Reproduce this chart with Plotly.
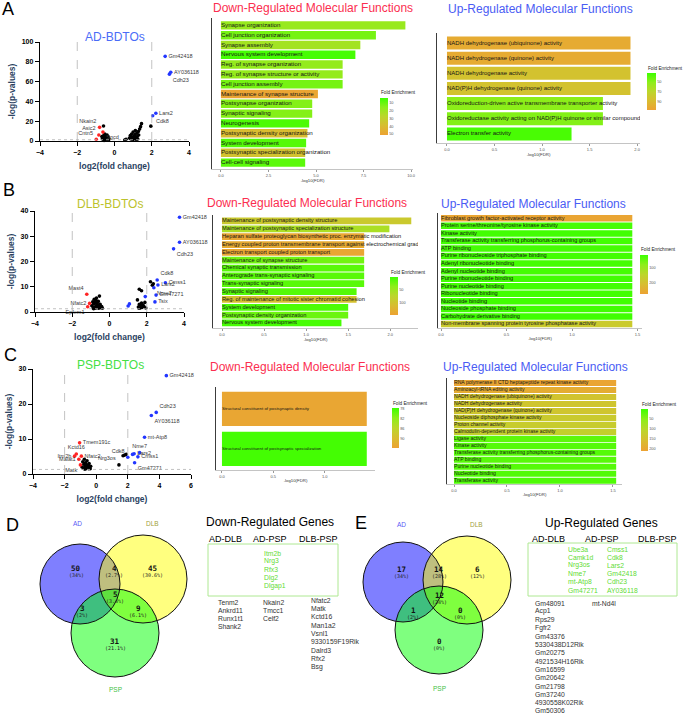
import plotly.graph_objects as go

W, H = 683, 714
def PX(p): return p / W
def PY(p): return 1 - p / H

SANS = "Liberation Sans, Arial, Helvetica, sans-serif"
MONO = "DejaVu Sans Mono, Liberation Mono, monospace"

# ======================= DATA =======================
# ---- Volcano A : AD-BDTOs
A_up_genes = ['Gm42418', 'AY036118', 'Cdh23', 'Lars2', 'Cdk8']
A_up_x = [2.72, 3.02, 2.95, 2.22, 2.05]
A_up_y = [85.5, 69.5, 67.5, 28.0, 25.5]
A_dn_genes = ['Nkain2', 'Sgcd', 'Asic2', 'Cntn5']
A_dn_x = [-0.80, -0.62, -0.84, -0.98]
A_dn_y = [13.8, 9.0, 6.0, 1.7]
A_ns_x = [-0.68, -0.62, -0.58, -0.55, -0.52, -0.50, -0.48, -0.45, -0.42, -0.40, -0.38, -0.36,
          -0.33, -0.30, -0.60, -0.65, -0.47, -0.56, -0.44, -0.35, -0.59,
          0.55, 0.62, 0.80, 0.85, 0.88, 0.92, 0.95, 0.98, 1.00, 1.02, 1.05, 1.08, 1.10, 1.12,
          1.15, 1.18, 1.20, 1.22, 1.25, 1.30, 1.35, 1.40, 1.45, 1.28, 1.95]
A_ns_y = [4.5, 3.0, 5.5, 2.0, 7.0, 3.5, 1.2, 4.0, 2.5, 6.0, 1.5, 3.2,
          0.8, 2.2, 1.0, 2.2, 5.0, 0.6, 0.9, 4.6, 15.2,
          1.0, 1.8, 3.0, 5.5, 2.0, 7.0, 4.0, 1.2, 9.0, 3.0, 5.0, 2.2, 6.5, 10.5,
          3.5, 1.5, 8.0, 4.5, 2.0, 6.0, 12.0, 14.5, 17.5, 9.5, 15.0]

# ---- Volcano B : DLB-BDTOs
B_up_genes = ['Gm42418', 'AY036118', 'Cdh23', 'Cdk8', 'Cmss1', 'Lars2', 'Nme7', 'Gm47271', 'Tsix', '', '', '']
B_up_x = [3.76, 3.76, 3.44, 2.56, 3.00, 2.60, 2.38, 2.50, 2.44, 1.92, 1.07, 1.00]
B_up_y = [37.5, 27.6, 25.0, 12.7, 11.6, 10.7, 9.6, 6.7, 4.0, 6.1, 3.2, 2.4]
B_dn_genes = ['Mast4', 'Nfatc2', 'Epfem1']
B_dn_x = [-1.22, -1.07, -1.17]
B_dn_y = [7.0, 3.4, 2.1]
B_ns_x = [-0.95, -0.90, -0.88, -0.85, -0.82, -0.80, -0.78, -0.75, -0.72, -0.70, -0.68, -0.65,
          -0.62, -0.60, -0.58, -0.55, -0.54, -0.50, -0.47, -0.42, -0.38, -0.85, -0.70,
          1.50, 1.55, 1.60, 1.65, 1.70, 1.72, 1.75, 1.80, 1.85, 1.90, 1.60, 1.72, 2.20, 2.30,
          2.35, 1.58, 1.95]
B_ns_y = [2.5, 4.0, 1.6, 3.2, 5.0, 2.0, 3.8, 1.5, 4.5, 2.6, 3.4, 1.8,
          2.9, 4.2, 1.5, 2.3, 6.3, 3.0, 1.7, 2.2, 1.5, 1.3, 5.5,
          4.8, 2.0, 3.0, 1.6, 2.5, 3.5, 1.8, 2.8, 2.2, 3.8, 9.0, 8.4, 12.0, 10.6,
          11.2, 1.5, 1.6]

# ---- Volcano C : PSP-BDTOs
C_up_genes = ['Gm42418', 'Cdh23', 'AY036118', 'mt-Atp8', 'Nme7', 'Lars2', 'Cdk8', 'Cmss1', 'Gm47271', '']
C_up_x = [4.44, 3.80, 3.49, 3.06, 2.75, 2.40, 2.00, 2.64, 2.43, 2.30]
C_up_y = [28.1, 17.6, 16.7, 10.5, 6.1, 5.8, 4.8, 4.9, 3.2, 5.6]
C_dn_genes = ['Tmem191c', 'Kctd16', 'Itm2b', 'Nfatc2', 'Malat1', 'Matk']
C_dn_x = [-1.05, -1.26, -1.37, -0.94, -1.10, -1.00]
C_dn_y = [8.9, 5.7, 5.1, 5.1, 4.2, 2.6]
C_ns_genes = ['Nrg3os', '', '', '']
C_ns_lx = [1.44, 1.70, 1.80, 1.90]
C_ns_ly = [2.6, 5.2, 5.4, 5.6]
C_ns_x = [-0.90, -0.85, -0.80, -0.78, -0.75, -0.70, -0.68, -0.65, -0.60, -0.58, -0.55,
          -0.50, -0.48, -0.45, -0.42, -0.38, -0.35, -0.72]
C_ns_y = [2.0, 3.5, 1.6, 2.8, 4.2, 2.2, 3.2, 1.5, 2.6, 3.8, 1.8,
          2.4, 1.5, 3.0, 1.9, 1.5, 2.2, 1.4]

# ---- GO bars  (x = -log10(FDR), colour = Fold Enrichment)
A_dn_terms = ['Synapse organization', 'Cell junction organization', 'Synapse assembly',
              'Nervous system development', 'Reg. of synapse organization',
              'Reg. of synapse structure or activity', 'Cell junction assembly',
              'Maintenance of synapse structure', 'Postsynapse organization', 'Synaptic signaling',
              'Neurogenesis', 'Postsynaptic density organization', 'System development',
              'Postsynaptic specialization organization', 'Cell-cell signaling']
A_dn_fdr = [9.7, 8.15, 7.33, 7.07, 6.4, 6.4, 6.4, 5.1, 4.8, 4.8, 4.64, 4.55, 4.48, 4.43, 4.43]
A_dn_fe = [18, 12, 21, 5, 17, 17, 12, 50, 14, 14, 6, 40, 7, 37, 8]

A_up_terms = ['NADH dehydrogenase (ubiquinone) activity', 'NADH dehydrogenase (quinone) activity',
              'NADH dehydrogenase activity', 'NAD(P)H dehydrogenase (quinone) activity',
              'Oxidoreduction-driven active transmembrane transporter activity',
              'Oxidoreductase activity acting on NAD(P)H quinone or similar compound as acceptor',
              'Electron transfer activity']
A_up_fdr = [1.93, 1.93, 1.93, 1.93, 1.64, 1.64, 1.31]
A_up_fe = [100, 100, 84, 84, 50, 48, 35]

B_dn_terms = ['Maintenance of postsynaptic density structure',
              'Maintenance of postsynaptic specialization structure',
              'Heparan sulfate proteoglycan biosynthetic proc. enzymatic modification',
              'Energy coupled proton transmembrane transport against electrochemical gradient',
              'Electron transport coupled proton transport', 'Maintenance of synapse structure',
              'Chemical synaptic transmission', 'Anterograde trans-synaptic signaling',
              'Trans-synaptic signaling', 'Synaptic signaling',
              'Reg. of maintenance of mitotic sister chromatid cohesion', 'System development',
              'Postsynaptic density organization', 'Nervous system development']
B_dn_fdr = [2.25, 1.99, 1.69, 1.69, 1.69, 1.69, 1.69, 1.69, 1.69, 1.60, 1.60, 1.50, 1.50, 1.42]
B_dn_fe = [92, 60, 140, 135, 140, 25, 14, 14, 14, 12, 105, 8, 22, 6]

B_up_terms = ['Fibroblast growth factor-activated receptor activity',
              'Protein serine/threonine/tyrosine kinase activity', 'Kinase activity',
              'Transferase activity transferring phosphorus-containing groups', 'ATP binding',
              'Purine ribonucleoside triphosphate binding', 'Adenyl ribonucleotide binding',
              'Adenyl nucleotide binding', 'Purine ribonucleotide binding', 'Purine nucleotide binding',
              'Ribonucleotide binding', 'Nucleotide binding', 'Nucleoside phosphate binding',
              'Carbohydrate derivative binding',
              'Non-membrane spanning protein tyrosine phosphatase activity']
B_up_fdr = [1.46] * 15
B_up_fe = [265, 22, 18, 18, 20, 18, 20, 20, 18, 18, 18, 16, 16, 15, 175]

C_dn_terms = ['Structural constituent of postsynaptic density',
              'Structural constituent of postsynaptic specialization']
C_dn_fdr = [1.41, 1.41]
C_dn_fe = [93, 78]

C_up_terms = ['RNA polymerase II CTD heptapeptide repeat kinase activity',
              'Aminoacyl-tRNA editing activity', 'NADH dehydrogenase (ubiquinone) activity',
              'NADH dehydrogenase activity', 'NAD(P)H dehydrogenase (quinone) activity',
              'Nucleoside diphosphate kinase activity', 'Proton channel activity',
              'Calmodulin-dependent protein kinase activity', 'Ligase activity', 'Kinase activity',
              'Transferase activity transferring phosphorus-containing groups', 'ATP binding',
              'Purine nucleotide binding', 'Nucleotide binding', 'Transferase activity']
C_up_fdr = [1.53] * 15
C_up_fe = [205, 190, 145, 140, 140, 130, 125, 120, 22, 16, 16, 18, 16, 14, 12]

# ---- Venn counts (order: AD only, AD&DLB, DLB only, all three, AD&PSP, DLB&PSP, PSP only)
D_counts = [50, 4, 45, 5, 3, 9, 31]
D_pcts = ['34%', '2.7%', '30.6%', '3.4%', '2%', '6.1%', '21.1%']
E_counts = [17, 14, 6, 12, 1, 0, 0]
E_pcts = ['34%', '28%', '12%', '24%', '2%', '0%', '0%']

# ---- Gene lists
D_common = ['Itm2b', 'Nrg3', 'Rfx3', 'Dlg2', 'Dlgap1']
D_ad_dlb = ['Tenm2', 'Ankrd11', 'Runx1t1', 'Shank2']
D_ad_psp = ['Nkain2', 'Tmcc1', 'Celf2']
D_dlb_psp = ['Nfatc2', 'Matk', 'Kctd16', 'Man1a2', 'Vsnl1', '9330159F19Rik', 'Dalrd3', 'Rfx2', 'Bsg']
E_common1 = ['Ube3a', 'Camk1d', 'Nrg3os', 'Nme7', 'mt-Atp8', 'Gm47271']
E_common2 = ['Cmss1', 'Cdk8', 'Lars2', 'Gm42418', 'Cdh23', 'AY036118']
E_ad_dlb = ['Gm48091', 'Acp1', 'Rps29', 'Fgfr2', 'Gm43376', '5330438D12Rik', 'Gm20275',
            '4921534H16Rik', 'Gm16599', 'Gm20642', 'Gm21798', 'Gm37240', '4930558K02Rik', 'Gm50306']
E_ad_psp = ['mt-Nd4l']
col_headers = ['AD-DLB', 'AD-PSP', 'DLB-PSP']

# ======================= STYLE / LAYOUT =======================
C_UPC, C_DNC, C_NSC = '#2236ff', '#ff2424', '#000000'
CSCALE = [[0.0, '#eca233'], [0.25, '#d8bd30'], [0.5, '#bcd62b'], [0.75, '#8eee1a'], [1.0, '#3cff00']]
RED_T, BLUE_T = '#fb2e50', '#4a5cf4'

fig = go.Figure()
layout = dict(width=W, height=H, margin=dict(l=0, r=0, t=0, b=0, autoexpand=False),
              paper_bgcolor='white', plot_bgcolor='white', showlegend=False, font=dict(family=SANS))
annotations, shapes = [], []

def akey(n, a):
    return ('%saxis' % a) if n == 1 else ('%saxis%d' % (a, n))
def aref(n, a):
    return a if n == 1 else '%s%d' % (a, n)

def note(text, x, y, size, color='black', xa='center', ya='middle', family=SANS, weight='normal', angle=0):
    annotations.append(dict(text=text, x=PX(x), y=PY(y), xref='paper', yref='paper', xanchor=xa,
                            yanchor=ya, showarrow=False, textangle=angle,
                            font=dict(size=size, color=color, family=family, weight=weight)))

def add_volcano(n, dx, dy, xr, yr, xt, yt, groups, labelled):
    xa, ya = aref(n, 'x'), aref(n, 'y')
    tf = dict(size=7, family=SANS, weight='bold', color='black')
    layout[akey(n, 'x')] = dict(domain=[PX(dx[0]), PX(dx[1])], range=xr, anchor=ya, tickvals=xt,
                                showline=True, linecolor='black', linewidth=1.4, ticks='outside',
                                ticklen=4, tickwidth=1.4, tickcolor='black', showgrid=False,
                                zeroline=False, tickfont=tf,
                                title=dict(text='log2(fold change)', standoff=8,
                                           font=dict(size=8.5, family=SANS, weight='bold')))
    layout[akey(n, 'y')] = dict(domain=[PY(dy[1]), PY(dy[0])], range=yr, anchor=xa, tickvals=yt,
                                showline=True, linecolor='black', linewidth=1.4, ticks='outside',
                                ticklen=4, tickwidth=1.4, tickcolor='black', showgrid=False,
                                zeroline=False, tickfont=tf,
                                title=dict(text='-log(p-values)', standoff=4,
                                           font=dict(size=8.5, family=SANS, weight='bold')))
    for xv in (-2, 2):
        shapes.append(dict(type='line', xref=xa, yref=ya + ' domain', x0=xv, x1=xv, y0=0, y1=1,
                           line=dict(color='#b4b4b4', width=0.8, dash='dash')))
    shapes.append(dict(type='line', xref=xa + ' domain', yref=ya, x0=0, x1=1, y0=1.3, y1=1.3,
                       line=dict(color='#b4b4b4', width=0.8, dash='dot')))
    for gx, gy, col in groups:
        fig.add_trace(go.Scatter(x=gx, y=gy, mode='markers', xaxis=xa, yaxis=ya, cliponaxis=False,
                                 marker=dict(size=3.6, color=col), hoverinfo='skip'))
    for gx, gy, names, pos, col in labelled:
        fig.add_trace(go.Scatter(x=gx, y=gy, mode='markers+text', text=names, textposition=pos,
                                 xaxis=xa, yaxis=ya, cliponaxis=False,
                                 marker=dict(size=3.6, color=col),
                                 textfont=dict(size=5.5, color='#3a3a3a', family=SANS),
                                 hoverinfo='skip'))

def add_bars(n, terms, fdr, fe, dx, dy, xr, ypad, xt, xtt, fe_lim, cbt, cb, lsize):
    xa, ya = aref(n, 'x'), aref(n, 'y')
    k = n - 3
    ca = 'coloraxis' if k == 1 else 'coloraxis%d' % k
    m = len(terms)
    fig.add_trace(go.Bar(x=fdr, y=terms, orientation='h', width=0.86, xaxis=xa, yaxis=ya,
                         marker=dict(color=[-v for v in fe], coloraxis=ca, line=dict(width=0)),
                         hoverinfo='skip'))
    fig.add_trace(go.Scatter(x=[0] * m, y=terms, text=terms, mode='text', textposition='middle right',
                             xaxis=xa, yaxis=ya, cliponaxis=True,
                             textfont=dict(size=lsize, color='#151515', family=SANS), hoverinfo='skip'))
    layout[akey(n, 'x')] = dict(domain=[PX(dx[0]), PX(dx[1])], range=xr, anchor=ya, tickvals=xt,
                                ticktext=xtt, showline=True, linecolor='#c4c4c4', linewidth=0.8,
                                ticks='outside', ticklen=2, tickwidth=0.6, tickcolor='#999',
                                showgrid=False, zeroline=False,
                                tickfont=dict(size=4, color='#555', family=SANS),
                                title=dict(text='-log10(FDR)', standoff=1,
                                           font=dict(size=4.3, color='#333', family=SANS)))
    layout[akey(n, 'y')] = dict(domain=[PY(dy[1]), PY(dy[0])], type='category',
                                categoryorder='array', categoryarray=terms,
                                range=[m - 1 + ypad[1], -ypad[0]], anchor=xa, showline=True,
                                linecolor='#3c3c3c', linewidth=0.8, showticklabels=False, ticks='',
                                showgrid=False, zeroline=False)
    cbx, cby, cblen, cbth = cb
    layout[ca] = dict(colorscale=CSCALE, cmin=-fe_lim[1], cmax=-fe_lim[0],
                      colorbar=dict(x=PX(cbx), xanchor='left', y=PY(cby), yanchor='top', len=cblen,
                                    lenmode='pixels', thickness=cbth, thicknessmode='pixels',
                                    outlinewidth=0, xpad=0, ypad=0, ticks='',
                                    tickvals=[-t for t in cbt], ticktext=[str(t) for t in cbt],
                                    tickfont=dict(size=3.8, color='#555', family=SANS)))
    note('Fold Enrichment', cbx - 1, cby - 5, 4.7, '#222', xa='left')

# ---------------- Volcanoes ----------------
add_volcano(1, (40, 189), (42, 141), [-4, 4], [0, 100], [-4, -2, 0, 2, 4], [0, 20, 40, 60, 80, 100],
            [(A_ns_x, A_ns_y, C_NSC)],
            [(A_dn_x, A_dn_y, A_dn_genes, ['top left', 'bottom right', 'top left', 'top left'], C_DNC),
             (A_up_x, A_up_y, A_up_genes, ['middle right', 'middle right', 'bottom right', 'middle right', 'bottom right'], C_UPC)])
add_volcano(2, (35, 184), (211, 312), [-4, 4], [0, 40], [-4, -2, 0, 2, 4], [0, 10, 20, 30, 40],
            [(B_ns_x, B_ns_y, C_NSC)],
            [(B_dn_x, B_dn_y, B_dn_genes, ['top left', 'middle left', 'bottom left'], C_DNC),
             (B_up_x, B_up_y, B_up_genes, ['middle right', 'middle right', 'bottom right', 'top right',
                                           'middle right', 'middle right', 'bottom right', 'middle right',
                                           'middle right', 'middle right', 'middle right', 'middle right'], C_UPC)])
add_volcano(3, (33, 191), (369, 474), [-4, 6], [0, 30], [-4, -2, 0, 2, 4, 6], [0, 10, 20, 30],
            [(C_ns_x, C_ns_y, C_NSC)],
            [(C_ns_lx, C_ns_ly, C_ns_genes, ['top left', 'middle right', 'middle right', 'middle right'], C_NSC),
             (C_dn_x, C_dn_y, C_dn_genes, ['middle right', 'top center', 'middle left', 'middle right', 'middle left', 'bottom left'], C_DNC),
             (C_up_x, C_up_y, C_up_genes, ['middle right', 'top right', 'bottom right', 'middle right', 'top center',
                                           'middle right', 'top left', 'middle right', 'bottom right', 'middle right'], C_UPC)])

note('AD-BDTOs', 115, 37, 12, '#4a6cf7')
note('DLB-BDTOs', 110, 204, 12, '#bcc22c')
note('PSP-BDTOs', 110, 365, 12, '#44e044')

# ---------------- GO bar charts ----------------
add_bars(4, A_dn_terms, A_dn_fdr, A_dn_fe, (212, 413), (18, 169), [-0.47, 10.1], (0.75, 0.65),
         [0, 2.5, 5, 7.5, 10], ['0.0', '2.5', '5.0', '7.5', '10.0'], (3.5, 51.3), [10, 20, 30, 40, 50],
         (380, 98, 37, 8), 6.2)
add_bars(5, A_up_terms, A_up_fdr, A_up_fe, (437, 640), (33, 143), [-0.105, 2.03], (0.66, 0.6),
         [0, 0.5, 1, 1.5, 2], ['0.0', '0.5', '1.0', '1.5', '2.0'], (32, 106), [50, 70, 90],
         (647, 73, 37, 9), 6.0)
add_bars(6, B_dn_terms, B_dn_fdr, B_dn_fe, (213, 418), (215, 328), [-0.107, 2.33], (0.76, 0.64),
         [0, 0.5, 1, 1.5, 2], ['0.0', '0.5', '1.0', '1.5', '2.0'], (1, 146), [50, 100],
         (390, 277, 38, 8), 5.7)
add_bars(7, B_up_terms, B_up_fdr, B_up_fe, (438, 642), (213, 328), [-0.023, 1.534], (0.7, 0.53),
         [0, 0.5, 1, 1.5], ['0.0', '0.5', '1.0', '1.5'], (13, 273), [100, 200],
         (640, 255, 39, 8), 5.6)
add_bars(8, C_dn_terms, C_dn_fdr, C_dn_fe, (216, 375), (387, 470), [-0.058, 1.49], (0.55, 0.53),
         [0, 0.5, 1], ['0.0', '0.5', '1.0'], (77.6, 93.6), [78, 82, 86, 90],
         (392, 408, 40, 7), 4.4)
add_bars(9, C_up_terms, C_up_fdr, C_up_fe, (447, 622), (378, 484), [-0.066, 1.585], (0.7, 0.45),
         [0, 0.5, 1, 1.5], ['0.0', '0.5', '1.0', '1.5'], (0, 210), [50, 100, 150, 200],
         (641, 409, 42, 7), 5.1)

for cx, y in ((313, 8), (307, 203), (310, 367)):
    note('Down-Regulated Molecular Functions', cx, y, 12, RED_T)
for cx, y in ((540, 9), (533, 204), (535, 367)):
    note('Up-Regulated Molecular Functions', cx, y, 12, BLUE_T)

# ---------------- Venn diagrams ----------------
VENN_D = [(80, 584, 40), (143, 579, 44), (115, 633, 44)]
VENN_E = [(403, 582, 40), (467, 580, 44), (439, 630, 44)]
VENN_FILL = ['#0000ff', '#ffff00', '#00ff00']
D_POS = [(76, 568), (114, 568), (152, 568), (115, 594), (82, 608), (138, 608), (115, 641)]
E_POS = [(401, 569), (439, 569), (477, 569), (439, 595), (413, 610), (460, 610), (439, 641)]

def venn(circles, counts, pcts, pos, lab_pos):
    for (cx, cy, r), fc in zip(circles, VENN_FILL):
        shapes.append(dict(type='circle', xref='paper', yref='paper', x0=PX(cx - r), x1=PX(cx + r),
                           y0=PY(cy + r), y1=PY(cy - r), fillcolor=fc, opacity=0.5, line=dict(width=0),
                           layer='below'))
    for (cx, cy, r) in circles:
        shapes.append(dict(type='circle', xref='paper', yref='paper', x0=PX(cx - r), x1=PX(cx + r),
                           y0=PY(cy + r), y1=PY(cy - r), line=dict(color='#111', width=1)))
    for c, p, (x, y) in zip(counts, pcts, pos):
        note(str(c), x, y, 7.5, '#111', family=MONO, weight='bold')
        note('(%s)' % p, x, y + 6.5, 5, '#222', family=MONO)
    for name, col, (x, y) in zip(['AD', 'DLB', 'PSP'], ['#5a5af5', '#9f9f3c', '#3fbf3f'], lab_pos):
        note(name, x, y, 6.5, col)

venn(VENN_D, D_counts, D_pcts, D_POS, [(77, 523), (152, 523), (115, 689)])
venn(VENN_E, E_counts, E_pcts, E_POS, [(401, 524), (476, 524), (439, 688)])

# ---------------- Gene tables ----------------
GREEN_G, GREY_G = '#5fdc34', '#333333'

def gene_col(names, x, y0, dy, color):
    for i, g in enumerate(names):
        note(g, x, y0 + i * dy, 6.8, color, xa='left')

note('Down-Regulated Genes', 270, 522, 12, 'black')
for h, x in zip(col_headers, (225, 270, 318)):
    note(h, x, 539, 9, 'black')
shapes.append(dict(type='rect', xref='paper', yref='paper', x0=PX(208), x1=PX(338), y0=PY(596),
                   y1=PY(544), line=dict(color='#aee892', width=1)))
gene_col(D_common, 262, 553, 8.3, GREEN_G)
gene_col(D_ad_dlb, 216, 602, 8.2, GREY_G)
gene_col(D_ad_psp, 261, 602, 8.2, GREY_G)
gene_col(D_dlb_psp, 309, 600, 8.35, GREY_G)

note('Up-Regulated Genes', 601, 523, 12, 'black')
for h, x in zip(col_headers, (548, 602, 657)):
    note(h, x, 539, 9, 'black')
shapes.append(dict(type='rect', xref='paper', yref='paper', x0=PX(528), x1=PX(677), y0=PY(596),
                   y1=PY(543), line=dict(color='#aee892', width=1)))
gene_col(E_common1, 566, 549, 8.2, GREEN_G)
gene_col(E_common2, 605, 549, 8.2, GREEN_G)
gene_col(E_ad_dlb, 533, 603, 8.3, GREY_G)
gene_col(E_ad_psp, 590, 603, 8.3, GREY_G)

# ---------------- Panel letters ----------------
for L, x, y in (('A', 8, 9), ('B', 9, 190), ('C', 10, 355), ('D', 12, 525), ('E', 361, 523)):
    note(L, x, y, 18, 'black')

layout['annotations'] = annotations
layout['shapes'] = shapes
fig.update_layout(**layout)
fig.write_html('out.html', config={'displayModeBar': False},
               post_script="document.body.style.margin='0px';document.body.style.overflow='hidden';")
